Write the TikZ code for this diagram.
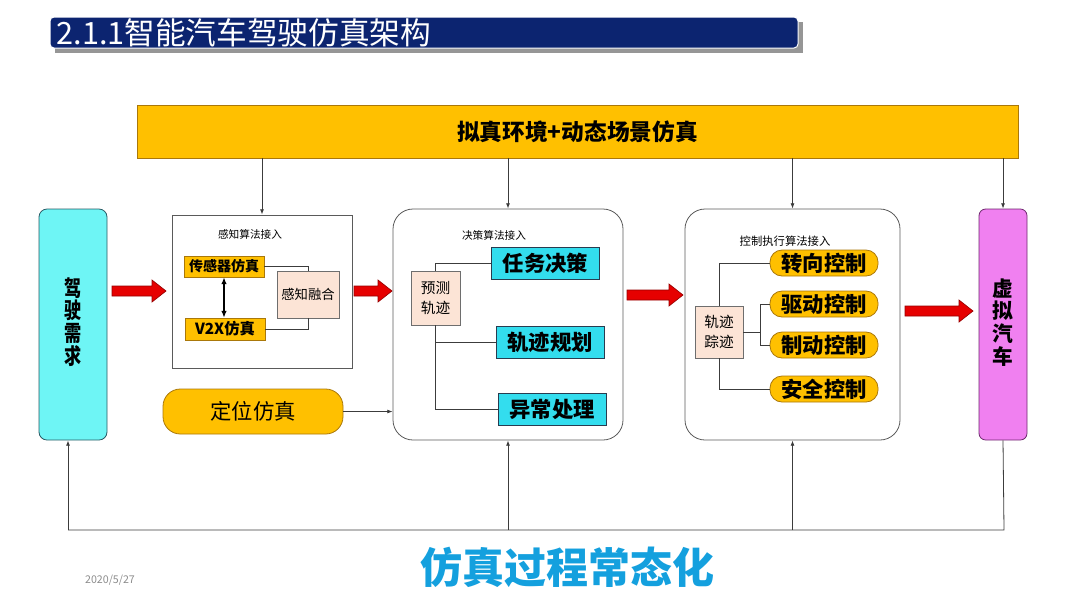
\documentclass[tikz,border=0pt]{standalone}
\usepackage{fontspec}
\setmainfont{Noto Sans CJK SC}
\usetikzlibrary{arrows.meta,positioning}
\definecolor{titleblue}{RGB}{12,36,112}
\definecolor{titleshadow}{RGB}{150,150,150}
\definecolor{goldbox}{RGB}{255,192,0}
\definecolor{goldline}{RGB}{170,120,10}
\definecolor{cyanbox}{RGB}{51,221,238}
\definecolor{needcyan}{RGB}{110,245,245}
\definecolor{carpink}{RGB}{240,128,240}
\definecolor{peach}{RGB}{252,228,214}
\definecolor{slogan}{RGB}{20,160,222}
\definecolor{dategray}{RGB}{140,140,140}
\definecolor{linkgray}{RGB}{60,60,60}
\definecolor{boxgray}{RGB}{90,90,90}
\definecolor{arrowred}{RGB}{230,0,0}
\definecolor{arrowdark}{RGB}{150,0,0}
% one character of a vertical label, on a fixed pitch
\newcommand\vchar[1]{\smash{#1}\rule[-4.3pt]{0pt}{17pt}}
\tikzset{every picture/.style={line width=0.75pt}}
\tikzset{
	algbox/.style={draw=boxgray,fill=white,line width=0.6pt},
	goldrect/.style={draw=goldline,fill=goldbox,line width=0.6pt,font=\bfseries},
	goldpill/.style={draw=goldline,fill=goldbox,rounded corners=9pt,line width=0.6pt,font=\bfseries\fontsize{16}{16}\selectfont,minimum width=81pt,minimum height=19.5pt,inner sep=0pt},
	cyanrect/.style={draw={rgb,255:red,40;green,60;blue,80},fill=cyanbox,line width=0.6pt,font=\bfseries\fontsize{16}{16}\selectfont,minimum width=81pt,minimum height=24.5pt,inner sep=0pt},
	peachbox/.style={draw={rgb,255:red,110;green,110;blue,110},fill=peach,line width=0.6pt,inner sep=0pt},
	smalllabel/.style={font=\fontsize{8}{8}\selectfont},
	link/.style={draw=linkgray,line width=0.6pt},
	arr/.style={link,-{Latex[length=4pt,width=3pt]}},
	redarrow/.style={fill=arrowred,draw=arrowdark,line width=0.5pt}
}

\begin{document}
\begin{tikzpicture}[x=0.75pt,y=0.75pt,yscale=-1,xscale=1]
	\useasboundingbox (0,0) rectangle (1080,608);

	% title bar
	\fill [titleshadow] (55,22) rectangle (803,53);
	\draw [draw=white,fill=titleblue,rounded corners=3pt] (50,17) rectangle (798,48);
	\node [anchor=west,text=white,font=\fontsize{23}{23}\selectfont,inner sep=0pt] (title) at (56,33) {2.1.1智能汽车驾驶仿真架构};

	% environment bar
	\node [goldrect,minimum width=660.75pt,minimum height=39.75pt,font=\bfseries\fontsize{17}{17}\selectfont] (env) at (577.5,131.5) {拟真环境+动态场景仿真};

	% side boxes
	\node [draw={rgb,255:red,40;green,90;blue,100},fill=needcyan,rounded corners=6pt,minimum width=51pt,minimum height=173.25pt,line width=0.6pt,font=\bfseries\fontsize{16.5}{16.5}\selectfont] (need) at (73,324.5) {\raisebox{-5.5pt}{\scalebox{0.78}[1]{\renewcommand\arraystretch{0}\begin{tabular}{@{}c@{}}\vchar{驾}\\\vchar{驶}\\\vchar{需}\\\vchar{求}\end{tabular}}}};
	\node [draw={rgb,255:red,110;green,40;blue,110},fill=carpink,rounded corners=5pt,minimum width=36pt,minimum height=173.25pt,line width=0.6pt,font=\bfseries\fontsize{15.5}{15.5}\selectfont] (car) at (1003,324.5) {\raisebox{9pt}{\renewcommand\arraystretch{0}\begin{tabular}{@{}c@{}}\vchar{虚}\\\vchar{拟}\\\vchar{汽}\\\vchar{车}\end{tabular}}};

	% perception
	\node [algbox,minimum width=135pt,minimum height=114.75pt] (perc) at (262,291.5) {};
	\node [smalllabel] (perclbl) at (250,234) {感知算法接入};
	\node [goldrect,minimum width=60pt,minimum height=15.75pt,inner sep=0pt,font=\bfseries\fontsize{10.5}{10.5}\selectfont] (sens) at (224,266.5) {传感器仿真};
	\node [goldrect,minimum width=60pt,minimum height=16.5pt,inner sep=0pt,font=\bfseries\fontsize{11.5}{11.5}\selectfont] (v2x) at (225,329) {V2X仿真};
	\node [peachbox,minimum width=46.5pt,minimum height=35.25pt,font=\fontsize{10}{10}\selectfont] (fuse) at (308,294.5) {感知融合};

	% decision
	\node [algbox,rounded corners=15pt,minimum width=172.5pt,minimum height=173.25pt] (dec) at (508,324.5) {};
	\node [smalllabel] (declbl) at (494,235) {决策算法接入};
	\node [peachbox,minimum width=36.75pt,minimum height=40.5pt,align=center,font=\fontsize{11}{15}\selectfont] (pred) at (435.5,298) {预测\\轨迹};
	\node [cyanrect] (task) at (545.5,263.5) {任务决策};
	\node [cyanrect,minimum height=24pt] (plan) at (550,342) {轨迹规划};
	\node [cyanrect] (abn) at (552,409.5) {异常处理};

	% localisation
	\node [goldrect,rounded corners=13pt,minimum width=135pt,minimum height=33.75pt,font=\fontsize{16}{16}\selectfont] (loc) at (253,411.5) {定位仿真};

	% control
	\node [algbox,rounded corners=15pt,minimum width=161.25pt,minimum height=173.25pt] (ctl) at (792.5,324.5) {};
	\node [smalllabel,font=\fontsize{8.5}{8.5}\selectfont] (ctllbl) at (785,241) {控制执行算法接入};
	\node [peachbox,minimum width=36pt,minimum height=39pt,align=center,font=\fontsize{11}{15}\selectfont] (track) at (719,332) {轨迹\\踪迹};
	\node [goldpill] (steer) at (824,263) {转向控制};
	\node [goldpill] (drive) at (824,304) {驱动控制};
	\node [goldpill] (brake) at (824,345) {制动控制};
	\node [goldpill] (safe) at (824,389) {安全控制};

	% arrows from the environment bar
	\draw [arr] (env.south -| perc.north) -- (perc.north);
	\draw [arr] (env.south -| dec.north) -- (dec.north);
	\draw [arr] (env.south -| ctl.north) -- (ctl.north);
	\draw [arr] (env.south -| car.north) -- (car.north);

	% inner links
	\draw [link,{Latex[length=5pt,width=4pt]}-{Latex[length=5pt,width=4pt]},line width=0.8pt,draw=black] (sens.south) -- (v2x.north -| sens.south);
	\draw [link] (sens.east) -| (fuse.north);
	\draw [link] (v2x.east) -| (fuse.south);
	\draw [link] (pred.north) |- (task.west);
	\draw [link] (pred.south) |- (plan.west);
	\draw [link] (pred.south) |- (abn.west);
	\draw [arr] (loc.east) -- (loc.east -| dec.west);
	\draw [link] (track.north) |- (steer.west);
	\draw [link] (track.south) |- (safe.west);
	\draw [link] (track.east) -- ++(17,0) coordinate (junc);
	\draw [link] (junc) |- (drive.west);
	\draw [link] (junc) |- (brake.west);

	% red block arrows
	\draw [redarrow] (112,286) -- (152,286) -- (152,280) -- (166,291) -- (152,302) -- (152,296) -- (112,296) -- cycle;
	\draw [redarrow] (354,286) -- (378,286) -- (378,280) -- (392,291) -- (378,302) -- (378,296) -- (354,296) -- cycle;
	\draw [redarrow] (627,290) -- (669,290) -- (669,284) -- (683,295) -- (669,306) -- (669,300) -- (627,300) -- cycle;
	\draw [redarrow] (905,306) -- (959,306) -- (959,300) -- (973,311) -- (959,322) -- (959,316) -- (905,316) -- cycle;

	% feedback loop
	\coordinate (fbr) at (1004,530);
	\coordinate (fbl) at (68,530);
	\draw [link] (car.south) -- (fbr) -- (fbl);
	\draw [arr] (fbl) -- (fbl |- need.south);
	\draw [arr] (dec.south |- fbl) -- (dec.south);
	\draw [arr] (ctl.south |- fbl) -- (ctl.south);

	% footer
	\node [text=slogan,font=\bfseries\fontsize{31.5}{31.5}\selectfont] (motto) at (567,567) {仿真过程常态化};
	\node [text=dategray,font=\fontsize{8}{8}\selectfont] (date) at (110,580) {2020/5/27};

\end{tikzpicture}
\end{document}
